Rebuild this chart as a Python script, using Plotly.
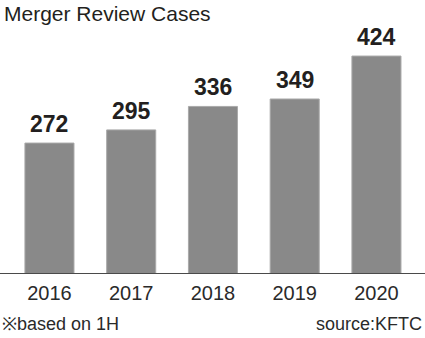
import plotly.graph_objects as go

# Merger review cases by year (first-half figures)
years = ["2016", "2017", "2018", "2019", "2020"]
cases = [272, 295, 336, 349, 424]

title_text = "Merger Review Cases"
note_text = "※based on 1H"
source_text = "source:KFTC"

W, H = 425, 338
plot_h = 273          # plot area height in px (top margin 0)
y_min = 45            # value at the baseline
px_per_unit = 0.5724  # vertical scale

ink = "#231f20"
sans = "Liberation Sans, Arial, sans-serif"

fig = go.Figure(
    go.Bar(
        x=years,
        y=cases,
        cliponaxis=False,
        marker=dict(color="#898989", line=dict(color="#a9a9a9", width=1)),
        hoverinfo="skip",
    )
)

# value labels sitting just above each bar (x given as category index)
value_labels = [
    dict(
        text=str(v), x=i, y=v, xref="x", yref="y",
        xanchor="center", yanchor="bottom", yshift=4,
        showarrow=False,
        font=dict(family=sans, size=23, color=ink, weight="bold"),
    )
    for i, v in enumerate(cases)
]

fig.update_layout(
    width=W,
    height=H,
    margin=dict(l=0, r=0, t=0, b=H - plot_h),
    paper_bgcolor="white",
    plot_bgcolor="white",
    bargap=0.4,
    showlegend=False,
    xaxis=dict(
        type="category",
        range=[-0.605, 4.594],
        showline=True,
        linecolor="#4a4a4a",
        linewidth=1,
        ticks="",
        showgrid=False,
        zeroline=False,
        tickfont=dict(family=sans, size=20, color="#2a2a2a"),
        ticklabelstandoff=2,
    ),
    yaxis=dict(
        range=[y_min, y_min + plot_h / px_per_unit],
        visible=False,
        showgrid=False,
        zeroline=False,
    ),
    annotations=value_labels + [
        dict(
            text=title_text,
            xref="paper", yref="paper",
            x=0.004, y=1, xanchor="left", yanchor="top",
            showarrow=False,
            font=dict(family=sans, size=21, color=ink),
        ),
        dict(
            text=note_text,
            xref="paper", yref="paper",
            x=0.0, y=(plot_h - 336) / plot_h, xanchor="left", yanchor="bottom",
            showarrow=False,
            font=dict(family=sans, size=18, color="#2a2a2a"),
        ),
        dict(
            text=source_text,
            xref="paper", yref="paper",
            x=0.997, y=(plot_h - 336) / plot_h, xanchor="right", yanchor="bottom",
            showarrow=False,
            font=dict(family=sans, size=18, color="#2a2a2a"),
        ),
    ],
)

fig.write_html("out.html")
